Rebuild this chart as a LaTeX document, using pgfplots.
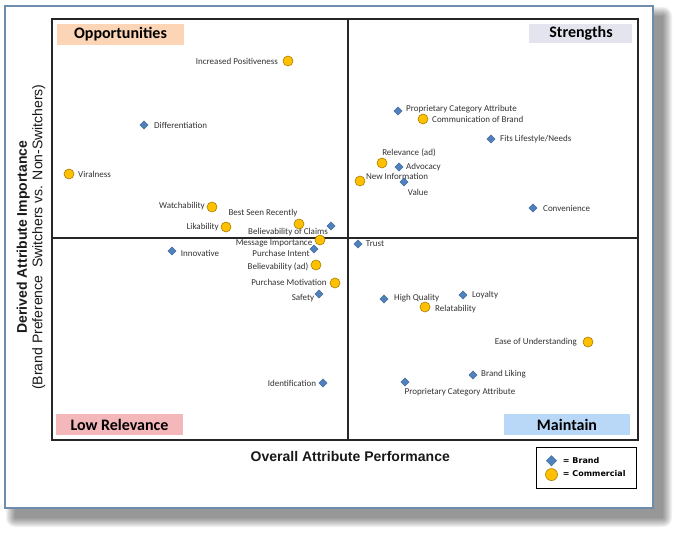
\documentclass[border=0pt]{standalone}
\usepackage{pgfplots}
\pgfplotsset{compat=1.18}
\usepackage{fontspec}
\setmainfont{Carlito}
\newfontfamily\arialfont{Liberation Sans}
\newfontfamily\verdanafont{DejaVu Sans}
\definecolor{brandblue}{HTML}{4F81BD}
\definecolor{brandedge}{HTML}{3B6396}
\definecolor{commyellow}{HTML}{FFC000}
\definecolor{commedge}{HTML}{A87E00}
\definecolor{framecol}{HTML}{6E8DAE}
\definecolor{oppfill}{HTML}{FBD5B5}
\definecolor{strfill}{HTML}{E4E4EE}
\definecolor{lowfill}{HTML}{F4B8BB}
\definecolor{mntfill}{HTML}{B9D8F7}
\definecolor{lbl}{HTML}{333333}
\begin{document}
\begin{tikzpicture}[x=1pt,y=1pt,
  plbl/.style={font=\fontsize{9}{10}\selectfont, text=lbl, inner sep=0pt},
  qbox/.style={font=\bfseries\fontsize{16}{18}\selectfont, text=black, inner sep=0pt, anchor=center}]
\path (0,0) rectangle (682,538);
\foreach \r in {0,1,...,9} {
  \fill[black,opacity=0.05,rounded corners=\r pt] (15-\r,20-\r) rectangle (663+\r,522+\r);
}
\draw[framecol, line width=1.5pt, fill=white] (5,30) rectangle (653,532);
\begin{axis}[
  at={(52pt,98pt)}, anchor=south west,
  scale only axis, width=586pt, height=421pt,
  xmin=52, xmax=638, ymin=98, ymax=519,
  xtick=\empty, ytick=\empty,
  axis line style={black!85, line width=1.2pt},
  clip=false,
  xlabel={Overall Attribute Performance},
  xlabel style={at={(axis description cs:0.509,-0.04)}, anchor=center,
    font=\arialfont\bfseries\fontsize{14}{16}\selectfont, text=black!90},
  ylabel={\textbf{Derived Attribute Importance}\\(Brand Preference\ \ Switchers vs. Non-Switchers)},
  ylabel style={at={(axis description cs:-0.036,0.482)}, anchor=center, align=center,
    font=\arialfont\fontsize{14}{15.5}\selectfont, text=black!90},
  legend image code/.code={\draw[#1] plot coordinates {(0pt,0pt)};},
  legend style={at={(axis description cs:0.9983,-0.0166)}, anchor=north east,
    draw=black, line width=1pt, font=\verdanafont\bfseries\fontsize{8}{9}\selectfont,
    inner xsep=9pt, inner ysep=7.5pt, row sep=2pt, column sep=3.5pt, cells={anchor=west}},
  legend cell align=left,
]
% quadrant dividers
\draw[black!85, line width=1.2pt] (axis cs:348,98) -- (axis cs:348,519);
\draw[black!85, line width=1.2pt] (axis cs:52,300) -- (axis cs:638,300);
% quadrant title boxes
\fill[oppfill] (axis cs:57,493) rectangle (axis cs:184,514);
\node[qbox] at (axis cs:120.5,503.5) {Opportunities};
\fill[strfill] (axis cs:529,495) rectangle (axis cs:632,514);
\node[qbox] at (axis cs:581,504.5) {Strengths};
\fill[lowfill] (axis cs:56,103) rectangle (axis cs:183,124);
\node[qbox] at (axis cs:119.5,113.5) {Low Relevance};
\fill[mntfill] (axis cs:504,103) rectangle (axis cs:630,124);
\node[qbox] at (axis cs:567,113.5) {Maintain};

\addplot[only marks, mark=diamond*, mark size=4.2pt,
  mark options={xscale=1.3, fill=brandblue, draw=brandedge, line width=0.4pt},
  legend image post style={mark size=5.2pt}]
  coordinates {
  (144,413) (172,287) (314,289) (331,312) (319,244) (323,155) (358,294)
  (398,427) (491,399) (399,371) (404,356) (533,330) (384,239) (463,243)
  (473,163) (405,156)};
\addlegendentry{= Brand}
\addplot[only marks, mark=*, mark size=5pt,
  mark options={fill=commyellow, draw=commedge, line width=0.6pt},
  legend image post style={mark size=6pt}]
  coordinates {
  (288,477) (69,364) (212,331) (226,311) (299,314) (320,298) (316,273)
  (335,255) (423,419) (382,375) (360,357) (425,231) (588,196)};
\addlegendentry{= Commercial}

% point labels
\node[plbl, anchor=east] at (axis cs:278,477) {Increased Positiveness};
\node[plbl, anchor=west] at (axis cs:154,413) {Differentiation};
\node[plbl, anchor=west] at (axis cs:78,364) {Viralness};
\node[plbl, anchor=east] at (axis cs:205,332) {Watchability};
\node[plbl, anchor=east] at (axis cs:219,311) {Likability};
\node[plbl] at (axis cs:263,325) {Best Seen Recently};
\node[plbl] at (axis cs:288,306) {Believability of Claims};
\node[plbl] at (axis cs:274,295) {Message Importance};
\node[plbl] at (axis cs:281,285) {Purchase Intent};
\node[plbl] at (axis cs:278,271) {Believability (ad)};
\node[plbl] at (axis cs:289,256) {Purchase Motivation};
\node[plbl] at (axis cs:303,240) {Safety};
\node[plbl] at (axis cs:292,155) {Identification};
\node[plbl] at (axis cs:200,285) {Innovative};
\node[plbl] at (axis cs:375,294) {Trust};
\node[plbl, anchor=west] at (axis cs:406,429) {Proprietary Category Attribute};
\node[plbl, anchor=west] at (axis cs:432,419) {Communication of Brand};
\node[plbl, anchor=west] at (axis cs:500,399) {Fits Lifestyle/Needs};
\node[plbl] at (axis cs:409,385) {Relevance (ad)};
\node[plbl, anchor=west] at (axis cs:406,371) {Advocacy};
\node[plbl] at (axis cs:397,362) {New Information};
\node[plbl] at (axis cs:418,346) {Value};
\node[plbl, anchor=west] at (axis cs:543,330) {Convenience};
\node[plbl, anchor=west] at (axis cs:394,240) {High Quality};
\node[plbl, anchor=west] at (axis cs:472,243) {Loyalty};
\node[plbl, anchor=west] at (axis cs:435,229) {Relatability};
\node[plbl, anchor=east] at (axis cs:577,196) {Ease of Understanding};
\node[plbl, anchor=west] at (axis cs:481,164) {Brand Liking};
\node[plbl] at (axis cs:460,146) {Proprietary Category Attribute};
\end{axis}
\end{tikzpicture}
\end{document}
